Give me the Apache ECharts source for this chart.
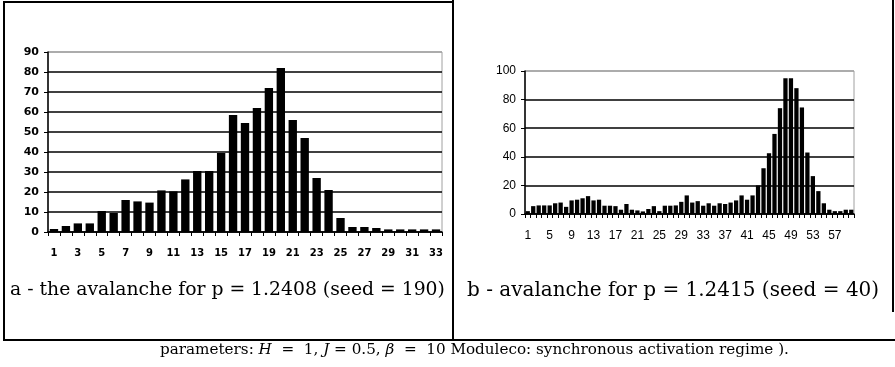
<!DOCTYPE html>
<html>
<head>
<meta charset="utf-8">
<script src="https://cdn.jsdelivr.net/npm/echarts@6/dist/echarts.min.js"></script>
<style>
  html, body { margin: 0; padding: 0; background: #fff; }
  #chart { width: 895px; height: 367px; }
</style>
</head>
<body>
<div id="chart"></div>
<script>
// panel a: avalanche for p = 1.2408 (33 steps)
const stepsA = Array.from({ length: 33 }, (_, i) => String(i + 1));
const valuesA = [
  1.5, 3, 4.3, 4.3, 10.5, 9.5, 16, 15.3, 14.7, 20.8,
  20.3, 26.3, 30.5, 30.5, 39.5, 58.5, 54.5, 62, 72, 82,
  56, 47, 27, 21, 7, 2.5, 2.5, 2, 1.3, 1.3,
  1.3, 1.3, 1.3,
];

// panel b: avalanche for p = 1.2415 (60 steps)
const stepsB = Array.from({ length: 60 }, (_, i) => String(i + 1));
const valuesB = [
  2, 5.5, 6, 6, 6, 7.5, 8, 5, 9.5, 10,
  11, 12.5, 9.5, 10, 5.8, 5.8, 5.5, 3, 7, 3,
  2.5, 1.8, 3.5, 5.5, 2, 5.8, 5.8, 6, 8.5, 13,
  8, 9, 5.8, 7.5, 5.8, 7.5, 7, 8, 9.5, 13,
  10, 13, 20, 32, 42.5, 56, 74, 95, 95, 88,
  74.5, 43, 26.5, 16, 7.5, 3, 2, 2, 3, 3,
];

const captionA = 'a - the avalanche for p = 1.2408 (seed = 190)';
const captionB = 'b - avalanche for p = 1.2415 (seed = 40)';

const chart = echarts.init(document.getElementById('chart'));

const serif = '"DejaVu Serif", "Liberation Serif", serif';
const sans = '"Liberation Sans", Arial, sans-serif';

// top gridline is grey, the rest black
const gridColors = (n) => Array.from({ length: n }, (_, i) => (i === n - 1 ? '#a0a0a0' : '#000'));

const frame = { stroke: '#000', lineWidth: 2 };

const option = {
  animation: false,
  grid: [
    { left: 48, top: 52, width: 394, height: 180, show: true, borderColor: '#a0a0a0', borderWidth: 1 },
    { left: 525, top: 71, width: 329, height: 143, show: true, borderColor: '#a0a0a0', borderWidth: 1 },
  ],
  xAxis: [
    {
      gridIndex: 0,
      type: 'category',
      data: stepsA,
      axisLine: { lineStyle: { color: '#000', width: 1.5 } },
      axisTick: { show: true, interval: 0, length: 4, lineStyle: { color: '#000' } },
      axisLabel: {
        interval: 1,
        margin: 16,
        color: '#000',
        fontFamily: '"DejaVu Sans", sans-serif',
        fontWeight: 'bold',
        fontSize: 10,
      },
    },
    {
      gridIndex: 1,
      type: 'category',
      data: stepsB,
      axisLine: { lineStyle: { color: '#000', width: 1.5 } },
      axisTick: { show: true, interval: 0, length: 4, lineStyle: { color: '#000' } },
      axisLabel: {
        interval: 3,
        margin: 16,
        color: '#000',
        fontFamily: sans,
        fontSize: 12,
      },
    },
  ],
  yAxis: [
    {
      gridIndex: 0,
      type: 'value',
      min: 0,
      max: 90,
      interval: 10,
      axisLine: { show: true, lineStyle: { color: '#000', width: 1.5 } },
      axisTick: { show: true, length: 4, lineStyle: { color: '#000' } },
      splitLine: { lineStyle: { color: gridColors(10), width: 1.5 } },
      axisLabel: {
        margin: 9,
        color: '#000',
        fontFamily: '"DejaVu Sans", sans-serif',
        fontWeight: 'bold',
        fontSize: 11,
      },
    },
    {
      gridIndex: 1,
      type: 'value',
      min: 0,
      max: 100,
      interval: 20,
      axisLine: { show: true, lineStyle: { color: '#000', width: 1.5 } },
      axisTick: { show: true, length: 4, lineStyle: { color: '#000' } },
      splitLine: { lineStyle: { color: gridColors(6), width: 1.5 } },
      axisLabel: {
        margin: 9,
        color: '#000',
        fontFamily: sans,
        fontSize: 12,
      },
    },
  ],
  series: [
    {
      type: 'bar',
      xAxisIndex: 0,
      yAxisIndex: 0,
      data: valuesA,
      barCategoryGap: '30%',
      itemStyle: { color: '#000' },
    },
    {
      type: 'bar',
      xAxisIndex: 1,
      yAxisIndex: 1,
      data: valuesB,
      barCategoryGap: '22%',
      itemStyle: { color: '#000' },
    },
  ],
  graphic: [
    // panel frames
    { type: 'line', shape: { x1: 4, y1: 2, x2: 453, y2: 2 }, style: frame },
    { type: 'line', shape: { x1: 4, y1: 1, x2: 4, y2: 341 }, style: frame },
    { type: 'line', shape: { x1: 453, y1: 0, x2: 453, y2: 341 }, style: frame },
    { type: 'line', shape: { x1: 893, y1: 0, x2: 893, y2: 312 }, style: frame },
    { type: 'line', shape: { x1: 3, y1: 340, x2: 895, y2: 340 }, style: frame },
    // captions
    {
      type: 'text',
      left: 10,
      top: 281,
      style: { text: captionA, font: '18.8px ' + serif, fill: '#000' },
    },
    {
      type: 'text',
      left: 467,
      top: 281,
      style: { text: captionB, font: '20px ' + serif, fill: '#000' },
    },
    {
      type: 'text',
      left: 160,
      top: 343,
      style: {
        text: 'parameters: {i|H}  =  1, {i|J} = 0.5, {i|β}  =  10 Moduleco: synchronous activation regime ).',
        font: '15.2px ' + serif,
        fill: '#000',
        rich: {
          i: { font: 'italic 15.2px ' + serif, fill: '#000' },
        },
      },
    },
  ],
};

chart.setOption(option);
</script>
</body>
</html>
